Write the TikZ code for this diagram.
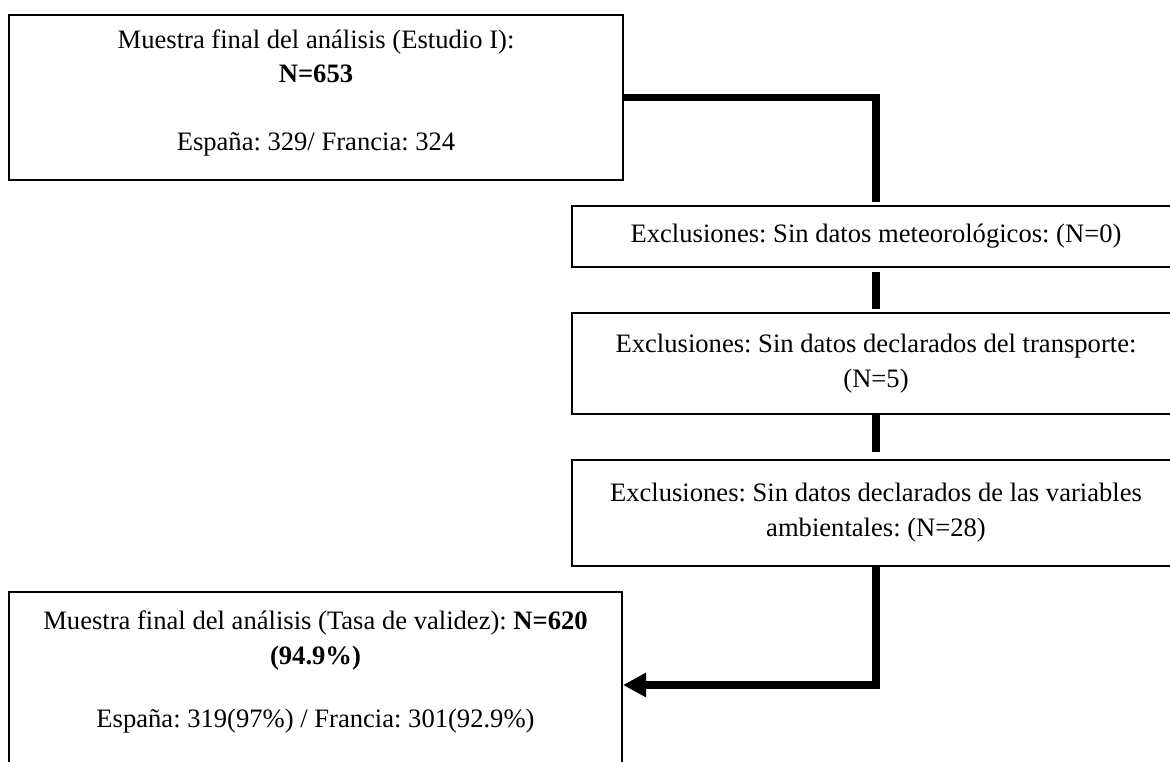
\documentclass[tikz,border=0pt]{standalone}
\usepackage{fontspec}
\setmainfont{Liberation Serif}
\usetikzlibrary{arrows.meta}
\frenchspacing
\begin{document}
\begin{tikzpicture}[x=1pt,y=-1pt,
  box/.style={draw=black, line width=2pt, rectangle, inner sep=0pt, align=center,
    font=\frenchspacing\fontsize{26.6}{35}\selectfont},
  boxtext/.style={inner sep=0pt, align=center, font=\frenchspacing\fontsize{26.6}{35}\selectfont},
  link/.style={draw=black, line width=7.5pt, line join=miter},
]
\useasboundingbox (0,0) rectangle (1170,762);
\clip (0,0) rectangle (1170,762);

% initial sample
\node[box, minimum width=614pt, minimum height=165pt] (muestra) at (316,97.5) {};
\node[boxtext, anchor=north, font=\frenchspacing\fontsize{26.6}{34}\selectfont]
  (muestratxt) at (316,30)
  {Muestra final del análisis (Estudio I):\\ \textbf{N=653}\\[34pt] España: 329/ Francia: 324};

% exclusion steps
\node[box, minimum width=608pt, minimum height=61pt] (sinmet) at (876,236.5)
  {Exclusiones: Sin datos meteorológicos: (N=0)};
\node[box, minimum width=608pt, minimum height=101pt] (sintrans) at (876,363.5)
  {Exclusiones: Sin datos declarados del transporte:\\ (N=5)};
\node[box, minimum width=608pt, minimum height=106pt] (sinamb) at (876,513)
  {Exclusiones: Sin datos declarados de las variables\\ ambientales: (N=28)};

% final sample
\node[box, minimum width=613pt, minimum height=186pt] (final) at (315.5,685) {};
\node[boxtext, anchor=north] (finaltxt) at (315.5,611)
  {Muestra final del análisis (Tasa de validez): \textbf{N=620}\\ \textbf{(94.9\%)}\\[28pt]
   España: 319(97\%) / Francia: 301(92.9\%)};

% connectors
\draw[link, shorten >=3pt] (muestra.east) -| (sinmet.north);
\draw[link, shorten <=4pt, shorten >=3pt] (sinmet.south) -- (sintrans.north);
\draw[link, shorten >=7pt] (sintrans.south) -- (sinamb.north);
\draw[link, -{Triangle[length=23pt,width=23pt]}] (sinamb.south) |- (final.east);
\end{tikzpicture}
\end{document}
